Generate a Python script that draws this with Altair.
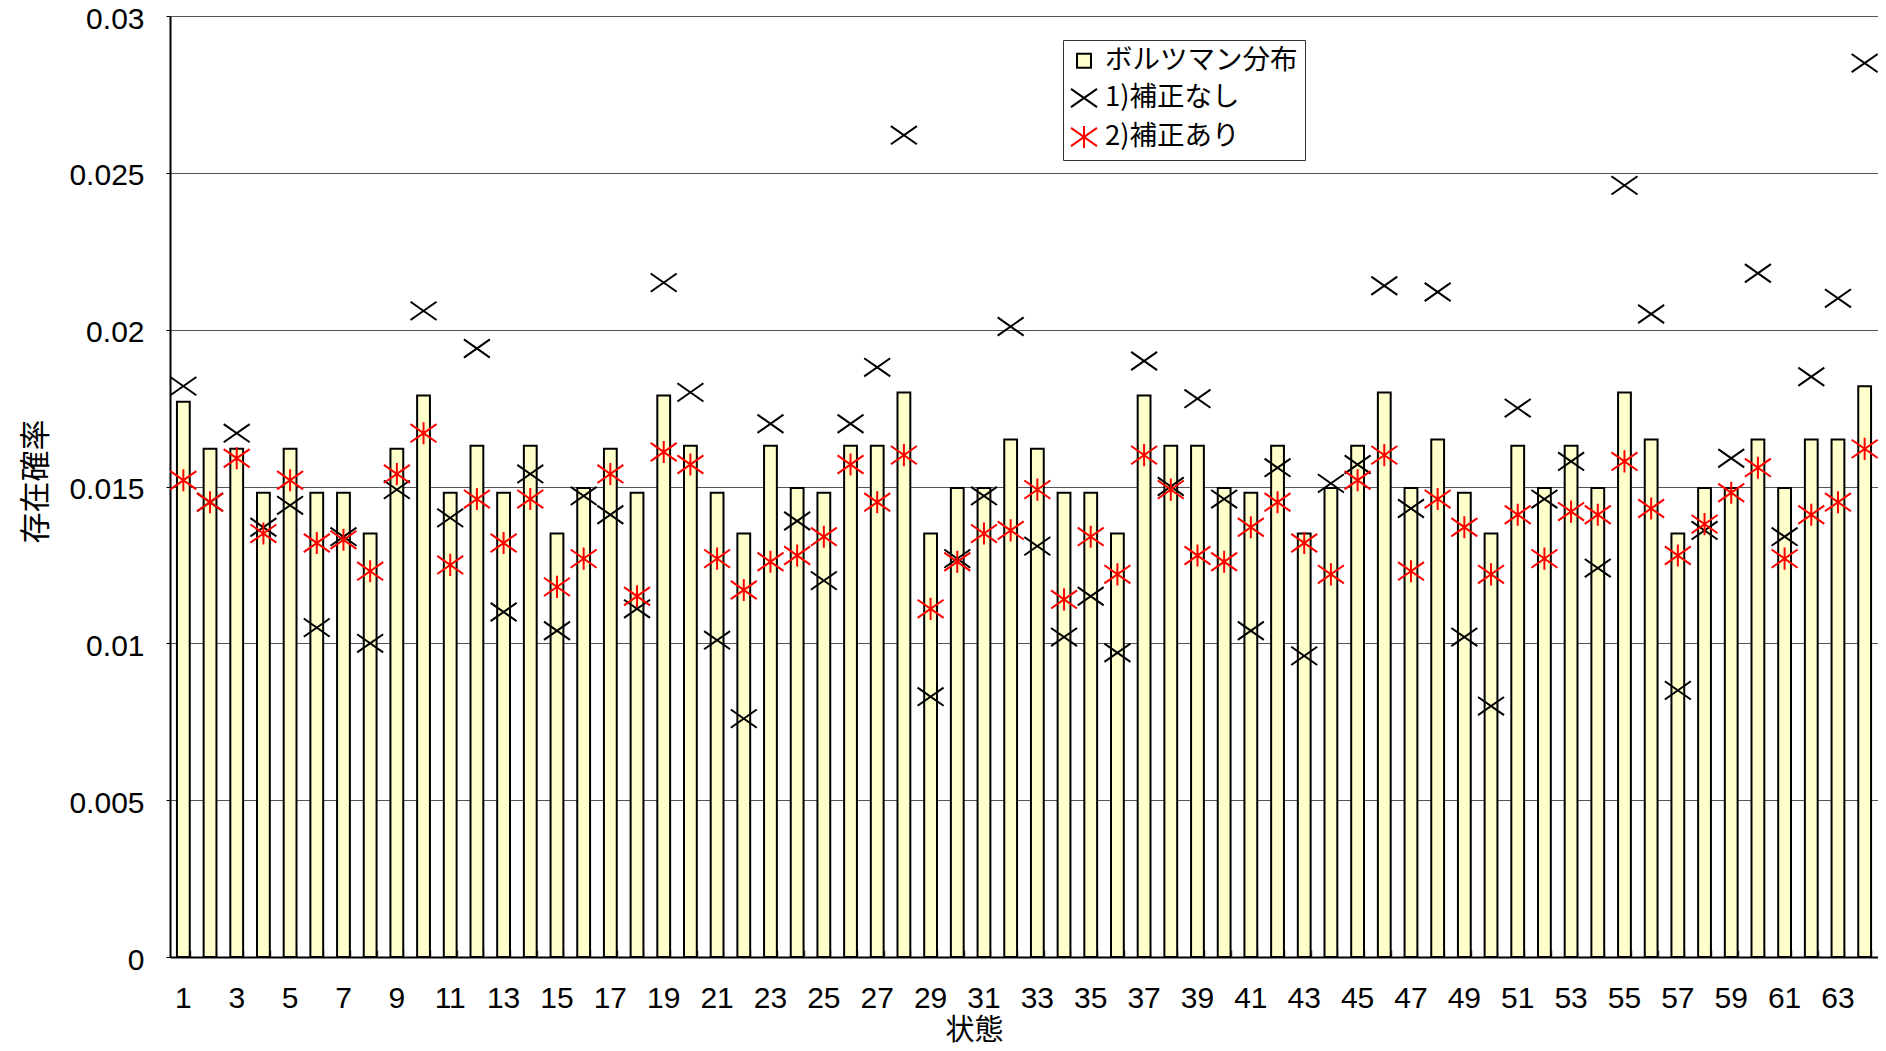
import altair as alt
import pandas as pd

states = list(range(1, 65))

boltzmann = [
    0.0177, 0.0162, 0.0162, 0.0148, 0.0162, 0.0148, 0.0148, 0.0135,
    0.0162, 0.0179, 0.0148, 0.0163, 0.0148, 0.0163, 0.0135, 0.01495,
    0.0162, 0.0148, 0.0179, 0.0163, 0.0148, 0.0135, 0.0163, 0.01495,
    0.0148, 0.0163, 0.0163, 0.0180, 0.0135, 0.01495, 0.01495, 0.0165,
    0.0162, 0.0148, 0.0148, 0.0135, 0.0179, 0.0163, 0.0163, 0.01495,
    0.0148, 0.0163, 0.0135, 0.01495, 0.0163, 0.0180, 0.01495, 0.0165,
    0.0148, 0.0135, 0.0163, 0.01495, 0.0163, 0.01495, 0.0180, 0.0165,
    0.0135, 0.01495, 0.01495, 0.0165, 0.01495, 0.0165, 0.0165, 0.0182,
]

uncorrected = [
    0.0182, 0.0145, 0.0167, 0.0137, 0.0144, 0.0105, 0.0134, 0.0100,
    0.0149, 0.0206, 0.0140, 0.0194, 0.0110, 0.0154, 0.0104, 0.0147,
    0.0141, 0.0111, 0.0215, 0.0180, 0.0101, 0.0076, 0.0170, 0.0139,
    0.0120, 0.0170, 0.0188, 0.0262, 0.0083, 0.0127, 0.0147, 0.0201,
    0.0131, 0.0102, 0.0115, 0.0097, 0.0190, 0.0150, 0.0178, 0.0146,
    0.0104, 0.0156, 0.0096, 0.0151, 0.0157, 0.0214, 0.0143, 0.0212,
    0.0102, 0.0080, 0.0175, 0.0146, 0.0158, 0.0124, 0.0246, 0.0205,
    0.0085, 0.0136, 0.0159, 0.0218, 0.0134, 0.0185, 0.0210, 0.0285,
]

corrected = [
    0.0152, 0.0145, 0.0159, 0.0135, 0.0152, 0.0132, 0.0133, 0.0123,
    0.0154, 0.0167, 0.0125, 0.0146, 0.0132, 0.0146, 0.0118, 0.0127,
    0.0154, 0.0115, 0.0161, 0.0157, 0.0127, 0.0117, 0.0126, 0.0128,
    0.0134, 0.0157, 0.0145, 0.0160, 0.0111, 0.0126, 0.0135, 0.0136,
    0.0149, 0.0114, 0.0134, 0.0122, 0.0160, 0.0149, 0.0128, 0.0126,
    0.0137, 0.0145, 0.0132, 0.0122, 0.0152, 0.0160, 0.0123, 0.0146,
    0.0137, 0.0122, 0.0141, 0.0127, 0.0142, 0.0141, 0.0158, 0.0143,
    0.0128, 0.0138, 0.0148, 0.0156, 0.0127, 0.0141, 0.0145, 0.0162,
]

series_names = ["ボルツマン分布", "1)補正なし", "2)補正あり"]
y_ticks = [0, 0.005, 0.01, 0.015, 0.02, 0.025, 0.03]

X_PATH = "M-1,-0.7L1,0.7M-1,0.7L1,-0.7"
AST_PATH = "M-1,-0.7L1,0.7M-1,0.7L1,-0.7M0,-0.85L0,0.85"

bars_df = pd.DataFrame({"state": states, "p": boltzmann})
pts_df = pd.concat([
    pd.DataFrame({"state": states, "p": uncorrected, "series": series_names[1]}),
    pd.DataFrame({"state": states, "p": corrected, "series": series_names[2]}),
], ignore_index=True)

LATIN = "Liberation Sans"
CJK = "Noto Sans CJK JP"

x_scale = alt.Scale(paddingInner=0.52, paddingOuter=0.26)

y_enc = alt.Y(
    "p:Q",
    title="存在確率",
    scale=alt.Scale(domain=[0, 0.03], nice=False),
    axis=alt.Axis(
        values=y_ticks, format="~g",
        labelFont=LATIN, labelFontSize=30, labelColor="black", labelPadding=22,
        labelOffset=3,
        tickSize=4, tickColor="black",
        domainColor="black", domainWidth=2,
        grid=True, gridColor="#555", gridWidth=1,
        titleFont=CJK, titleFontSize=31, titleFontWeight="normal", titleColor="black",
        titleAngle=270, titleX=-134, titleY=465, titleAlign="center", titleBaseline="middle",
    ),
)

bars = alt.Chart(bars_df).mark_bar(
    fill="#FFFFCC", stroke="black", strokeWidth=2
).encode(
    x=alt.X(
        "state:O", title="状態", scale=x_scale, sort=states,
        axis=alt.Axis(
            labelExpr="datum.value % 2 == 1 ? datum.label : ''",
            labelAngle=0, ticks=False, tickSize=0, labelPadding=26,
            labelFont=LATIN, labelFontSize=30, labelColor="black",
            domainColor="black", domainWidth=2, grid=False,
            titleFont=CJK, titleFontSize=29, titleFontWeight="normal", titleColor="black",
            titleX=804, titleY=82, titleAlign="center", titleBaseline="alphabetic",
        ),
    ),
    y=y_enc,
)

legend = alt.Legend(
    title=None, orient="none", legendX=893, legendY=24,
    fillColor="white", strokeColor="#333", padding=7,
    labelFont=CJK, labelFontSize=27.5, labelColor="black", labelLimit=400,
    rowPadding=9, labelOffset=7, symbolStrokeWidth=2,
)

points = alt.Chart(pts_df).mark_point(strokeWidth=2, opacity=1).encode(
    x=alt.X(
        "state:O", scale=x_scale, sort=states,
        axis=alt.Axis(
            orient="bottom", labels=False, domain=False, title=None, grid=False,
            tickBand="extent", tickSize=7, offset=-7, tickColor="#444", tickWidth=1.5,
        ),
    ),
    y=y_enc,
    shape=alt.Shape("series:N", scale=alt.Scale(domain=series_names, range=["square", X_PATH, AST_PATH]), legend=legend),
    stroke=alt.Stroke("series:N", scale=alt.Scale(domain=series_names, range=["black", "black", "red"]), legend=legend),
    fill=alt.Fill("series:N", scale=alt.Scale(domain=series_names, range=["#FFFFCC", "transparent", "transparent"]), legend=legend),
    size=alt.Size("series:N", scale=alt.Scale(type="ordinal", domain=series_names, range=[196, 676, 676]), legend=legend),
)

chart = alt.layer(bars, points).resolve_axis(x="independent").properties(
    width=1708, height=941,
    autosize=alt.AutoSizeParams(type="none"),
    padding={"left": 162, "top": 8, "right": 0, "bottom": 86},
).configure_view(stroke="#888", strokeWidth=1).configure(background="white")

chart.save("out.html", embed_options={"renderer": "svg", "actions": False})
